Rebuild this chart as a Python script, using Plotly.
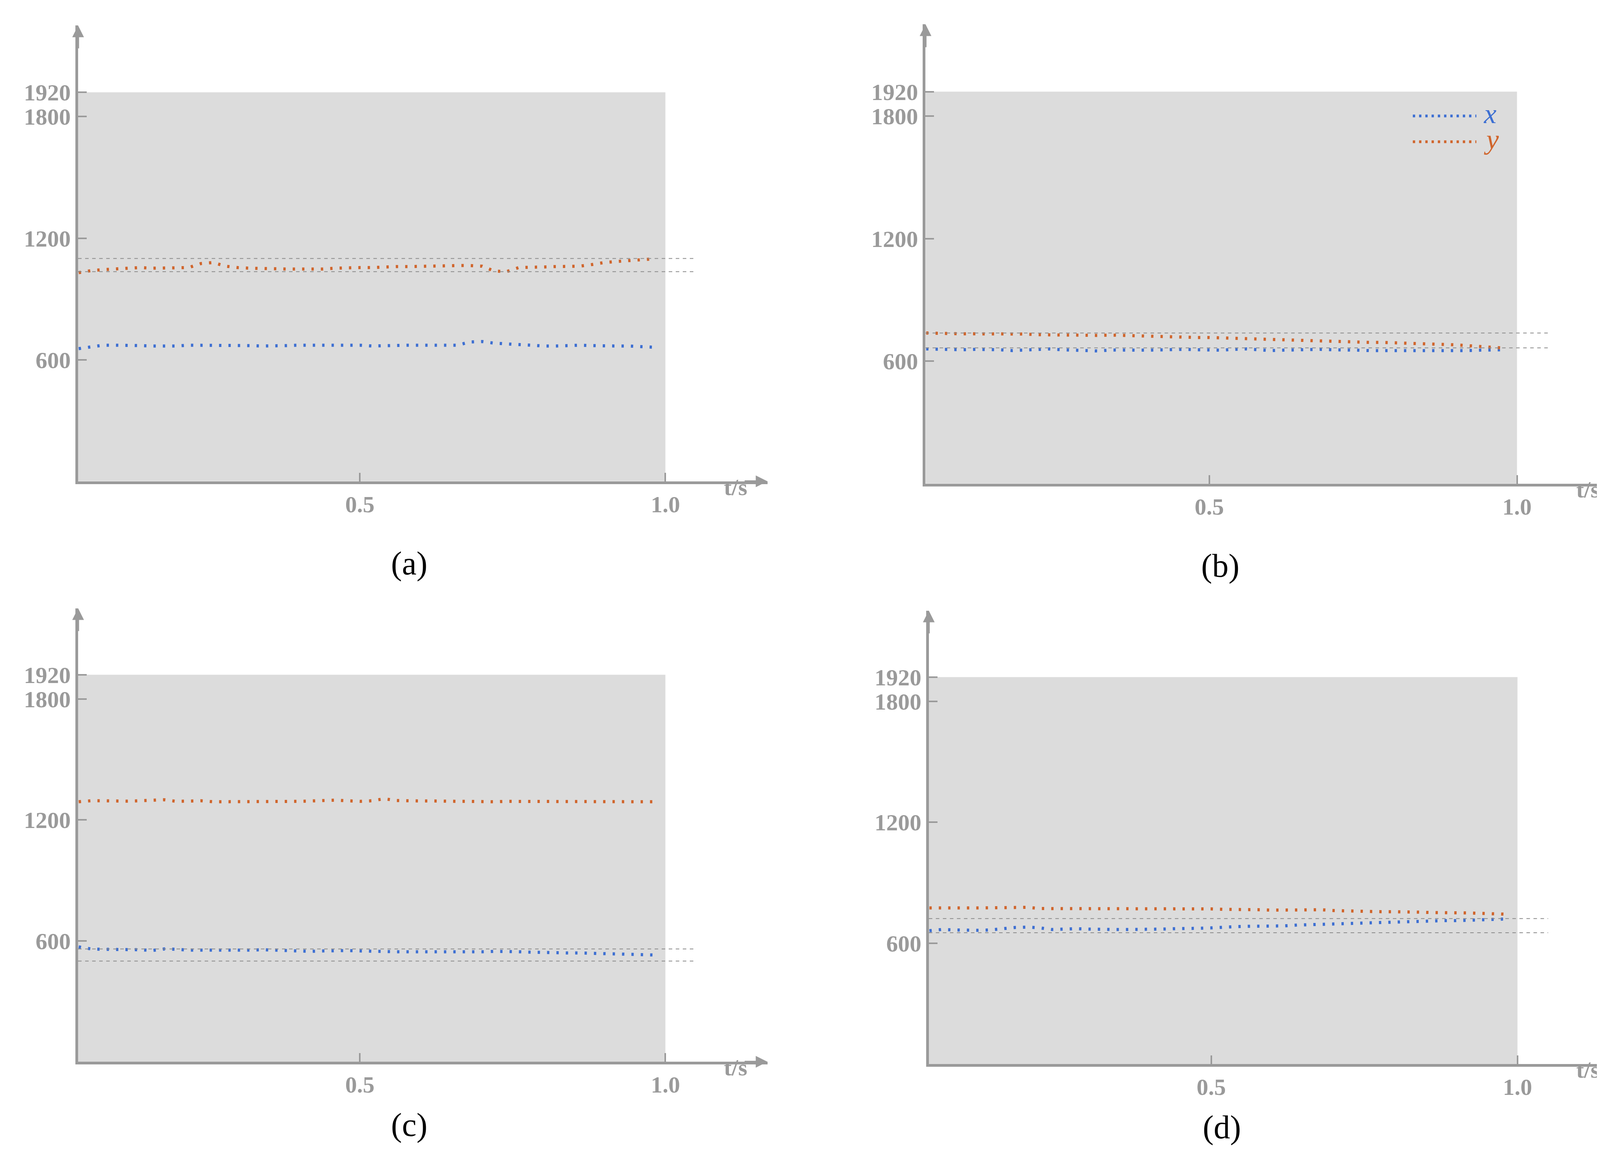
import plotly.graph_objects as go
from plotly.subplots import make_subplots

t = [round(0.04 + i * 0.02, 3) for i in range(48)]  # 0.04 .. 0.98

a_x = [655,662,672,672,672,670,668,668,668,672,672,672,672,672,670,668,668,670,672,672,672,672,672,672,668,670,672,672,672,672,672,672,688,690,682,680,675,672,668,668,670,672,670,668,668,668,666,662]
a_y = [1030,1040,1045,1048,1052,1055,1052,1052,1052,1055,1075,1080,1062,1055,1052,1050,1048,1048,1048,1048,1048,1052,1055,1055,1055,1058,1060,1060,1062,1062,1065,1065,1065,1062,1038,1035,1055,1058,1058,1060,1062,1062,1070,1080,1085,1090,1095,1098]
a_ref = [1100, 1035]

b_x = [660,658,656,656,658,658,656,652,655,658,660,656,654,652,650,655,656,654,654,656,658,658,656,655,654,658,660,656,652,654,656,658,658,656,656,654,652,652,650,652,652,650,650,652,652,654,655,656]
b_y = [738,736,735,734,734,734,732,732,733,730,728,728,728,726,726,728,726,724,722,720,718,718,716,716,714,712,712,710,708,706,704,702,700,698,696,694,692,692,690,690,688,686,684,680,676,672,668,664]
b_ref = [738, 665]

c_x = [570,560,558,558,556,556,552,560,558,554,554,554,552,552,554,556,554,554,552,548,550,552,552,550,548,548,546,546,546,544,544,544,544,546,548,548,546,544,542,542,540,540,538,538,536,534,532,530]
c_y = [1290,1295,1295,1293,1293,1295,1298,1300,1292,1294,1295,1290,1290,1292,1292,1292,1292,1290,1292,1294,1296,1298,1295,1292,1295,1305,1296,1294,1294,1294,1292,1292,1292,1290,1290,1292,1292,1290,1290,1290,1290,1292,1292,1292,1292,1292,1290,1290]
c_ref = [560, 500]

d_x = [662,668,666,664,664,666,672,678,680,676,668,670,672,670,668,668,668,668,670,670,672,672,674,676,680,682,684,684,686,686,690,692,694,696,698,700,702,704,704,706,708,710,712,712,714,716,718,720]
d_y = [775,776,776,775,775,776,776,778,778,772,772,772,770,770,770,772,772,770,770,770,772,772,772,770,768,768,766,766,764,764,764,764,766,762,760,758,758,756,756,756,754,752,752,750,750,748,746,744]
d_ref = [722, 652]

panels = [(a_x, a_y, a_ref, "(a)"), (b_x, b_y, b_ref, "(b)"), (c_x, c_y, c_ref, "(c)"), (d_x, d_y, d_ref, "(d)")]
y_ticks = [600, 1200, 1800, 1920]
x_ticks = [0.5, 1.0]

BLUE = "#3d6fd2"
ORANGE = "#d0652c"
AX = "#9a9a9a"
FONT = "Liberation Serif"
DOT = "6px,18px"

fig = make_subplots(rows=2, cols=2)
doms = [((0.046, 0.469), (0.593, 0.981)), ((0.566, 0.992), (0.591, 0.982)),
        ((0.046, 0.469), (0.099, 0.485)), ((0.568, 0.992), (0.097, 0.483))]

XR = [0.039, 1.167]
YR = [0, 2250]
for i, (xs, ys, ref, lab) in enumerate(panels):
    r, c = i // 2 + 1, i % 2 + 1
    xa = "x" if i == 0 else f"x{i+1}"
    ya = "y" if i == 0 else f"y{i+1}"
    fig.add_shape(type="rect", xref=xa, yref=ya, x0=XR[0], x1=1.0, y0=0, y1=1920,
                  fillcolor="#dcdcdc", line_width=0, layer="below")
    for rv in ref:
        fig.add_shape(type="line", xref=xa, yref=ya, x0=XR[0], x1=1.05, y0=rv, y1=rv,
                      line=dict(color="#8a8a8a", width=2, dash="dash"))
    fig.add_trace(go.Scatter(x=t, y=xs, mode="lines", line=dict(color=BLUE, width=8, dash=DOT),
                             showlegend=False), row=r, col=c)
    fig.add_trace(go.Scatter(x=t, y=ys, mode="lines", line=dict(color=ORANGE, width=8, dash=DOT),
                             showlegend=False), row=r, col=c)
    (dx, dy) = doms[i]
    fig.update_xaxes(domain=list(dx), range=XR, tickvals=x_ticks, ticktext=["<b>0.5</b>", "<b>1.0</b>"],
                     ticks="inside", ticklen=22, tickwidth=4, tickcolor=AX,
                     showline=True, linecolor=AX, linewidth=7, showgrid=False, zeroline=False,
                     tickfont=dict(family=FONT, size=60, color=AX), row=r, col=c)
    fig.update_yaxes(domain=list(dy), range=YR, tickvals=y_ticks,
                     ticktext=[f"<b>{v}</b>" for v in y_ticks], ticks="inside", ticklen=22,
                     tickwidth=4, tickcolor=AX, showline=True, linecolor=AX, linewidth=7,
                     showgrid=False, zeroline=False,
                     tickfont=dict(family=FONT, size=60, color=AX), row=r, col=c)
    fig.add_annotation(xref=f"{xa} domain", yref=f"{ya} domain", x=1.0, y=0, ax=-60, ay=0,
                       showarrow=True, arrowhead=2, arrowsize=1.2,
                       arrowwidth=5, arrowcolor=AX, text="")
    fig.add_annotation(xref=f"{xa} domain", yref=f"{ya} domain", x=0, y=1.0, ax=0, ay=60,
                       showarrow=True, arrowhead=2, arrowsize=1.2, arrowwidth=5, arrowcolor=AX, text="")
    fig.add_annotation(xref=xa, yref=f"{ya} domain", x=1.115, y=0, yshift=-50, showarrow=False,
                       text="<b>t/s</b>", font=dict(family=FONT, size=60, color=AX))
    fig.add_annotation(xref="paper", yref="paper", x=(dx[0] + dx[1]) / 2 - 0.02, y=dy[0] - 0.07,
                       showarrow=False, text=lab, font=dict(family=FONT, size=84, color="black"))

for yy, col, name in [(0.904, BLUE, "x"), (0.882, ORANGE, "y")]:
    fig.add_shape(type="line", xref="paper", yref="paper", x0=0.865, x1=0.904, y0=yy, y1=yy,
                  line=dict(color=col, width=7, dash="6px,10px"))
    fig.add_annotation(xref="paper", yref="paper", x=0.908, y=yy, xanchor="left", yanchor="middle",
                       yshift=6, showarrow=False,
                       text=f"<i>{name}</i>", font=dict(family=FONT, size=72, color=col))

fig.update_layout(width=4172, height=3007, paper_bgcolor="white", plot_bgcolor="white",
                  margin=dict(l=0, r=0, t=0, b=0), showlegend=False)
fig.write_html("out.html")
